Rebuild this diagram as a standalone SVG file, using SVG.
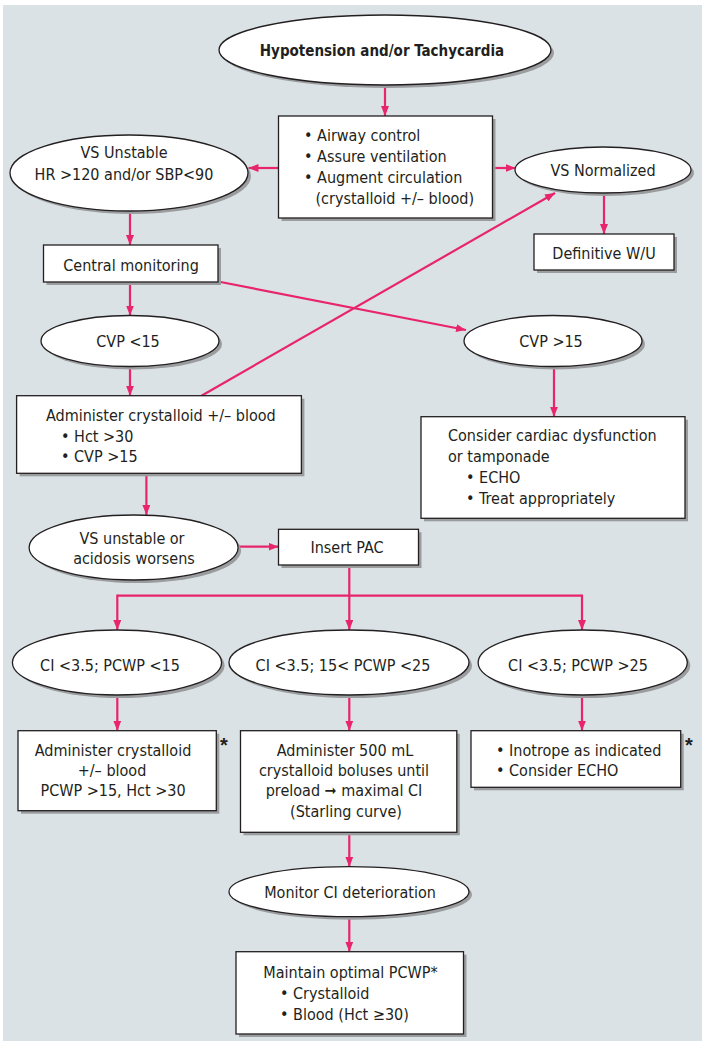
<svg xmlns="http://www.w3.org/2000/svg" width="702" height="1044" viewBox="0 0 702 1044">
<defs>
<marker id="ah" viewBox="0 0 10 8" refX="10" refY="4" markerWidth="10" markerHeight="8" markerUnits="userSpaceOnUse" orient="auto">
<path d="M0,0 L10,4 L0,8 Z" fill="#e8246a"/>
</marker>
<style>
.bg{fill:#dae2e5}
.sh{fill:#9a9c9e}
.nd{fill:#fff;stroke:#231f20;stroke-width:1.3}
.t{font-family:"Liberation Sans Narrow","DejaVu Sans Condensed","Liberation Sans",sans-serif;font-size:16px;fill:#231f20}
.c{text-anchor:middle}
.b{font-weight:bold;font-size:15px}
.ast{font-family:"Liberation Sans","DejaVu Sans",sans-serif;font-size:20px;font-weight:bold;fill:#231f20}
.cn{stroke:#e8246a;stroke-width:2.2;fill:none}
.ar{marker-end:url(#ah)}
</style>
</defs>
<rect class="bg" x="3" y="5" width="699" height="1036"/>

<g id="connectors">
<line class="cn ar" x1="385" y1="85" x2="385" y2="116"/>
<line class="cn ar" x1="278.5" y1="168" x2="248.5" y2="168"/>
<line class="cn ar" x1="492.5" y1="168" x2="515.5" y2="168"/>
<line class="cn ar" x1="604" y1="193" x2="604" y2="234"/>
<line class="cn ar" x1="130" y1="211" x2="130" y2="245"/>
<line class="cn ar" x1="130" y1="282" x2="130" y2="315.5"/>
<line class="cn ar" x1="218" y1="281.5" x2="466" y2="330"/>
<line class="cn ar" x1="130" y1="366.5" x2="130" y2="395.7"/>
<line class="cn ar" x1="201.5" y1="395.7" x2="555" y2="193"/>
<line class="cn ar" x1="554" y1="366.5" x2="554" y2="416.7"/>
<line class="cn ar" x1="146.4" y1="473.3" x2="146.4" y2="515"/>
<line class="cn ar" x1="238" y1="546.7" x2="278.5" y2="546.7"/>
<line class="cn" x1="349.3" y1="565" x2="349.3" y2="595.7"/>
<line class="cn" x1="117.3" y1="595.7" x2="582" y2="595.7"/>
<line class="cn ar" x1="117.3" y1="594.6" x2="117.3" y2="630"/>
<line class="cn ar" x1="349.3" y1="595.7" x2="349.3" y2="630"/>
<line class="cn ar" x1="582" y1="594.6" x2="582" y2="630"/>
<line class="cn ar" x1="117.3" y1="695" x2="117.3" y2="730.7"/>
<line class="cn ar" x1="349.3" y1="695" x2="349.3" y2="730.7"/>
<line class="cn ar" x1="582" y1="695" x2="582" y2="730.7"/>
<line class="cn ar" x1="349.3" y1="832.3" x2="349.3" y2="866.7"/>
<line class="cn ar" x1="349.3" y1="916.7" x2="349.3" y2="951.7"/>
</g>

<g id="n-hypotension">
<ellipse class="sh" cx="388" cy="53" rx="166" ry="35"/>
<ellipse class="nd" cx="385" cy="50" rx="166" ry="35"/>
<text class="t c b" x="382" y="55.5">Hypotension and/or Tachycardia</text>
</g>

<g id="n-airway">
<rect class="sh" x="281.5" y="119" width="214" height="102"/>
<rect class="nd" x="278.5" y="116" width="214" height="102"/>
<text class="t" x="304" y="140.5">• Airway control</text>
<text class="t" x="304" y="161.5">• Assure ventilation</text>
<text class="t" x="304" y="182.5">• Augment circulation</text>
<text class="t" x="315.5" y="203.5">(crystalloid +/– blood)</text>
</g>

<g id="n-vsunstable">
<ellipse class="sh" cx="132" cy="176" rx="119" ry="38"/>
<ellipse class="nd" cx="129" cy="173" rx="119" ry="38"/>
<text class="t c" x="124" y="158">VS Unstable</text>
<text class="t c" x="124" y="179.5">HR &gt;120 and/or SBP&lt;90</text>
</g>

<g id="n-vsnormalized">
<ellipse class="sh" cx="606" cy="173" rx="88" ry="23"/>
<ellipse class="nd" cx="603" cy="170" rx="88" ry="23"/>
<text class="t c" x="603" y="175.5">VS Normalized</text>
</g>

<g id="n-definitive">
<rect class="sh" x="537" y="237" width="140" height="36"/>
<rect class="nd" x="534" y="234" width="140" height="36"/>
<text class="t c" x="604" y="258.5">Definitive W/U</text>
</g>

<g id="n-central">
<rect class="sh" x="46.5" y="248" width="174.5" height="37"/>
<rect class="nd" x="43.5" y="245" width="174.5" height="37"/>
<text class="t c" x="131" y="270.5">Central monitoring</text>
</g>

<g id="n-cvplow">
<ellipse class="sh" cx="133" cy="344" rx="89" ry="25.5"/>
<ellipse class="nd" cx="130" cy="341" rx="89" ry="25.5"/>
<text class="t c" x="128" y="347">CVP &lt;15</text>
</g>

<g id="n-cvphigh">
<ellipse class="sh" cx="556" cy="344" rx="89" ry="25.5"/>
<ellipse class="nd" cx="553" cy="341" rx="89" ry="25.5"/>
<text class="t c" x="551" y="347">CVP &gt;15</text>
</g>

<g id="n-administer1">
<rect class="sh" x="19.6" y="398.7" width="284.8" height="77.6"/>
<rect class="nd" x="16.6" y="395.7" width="284.8" height="77.6"/>
<text class="t" x="46" y="420.5">Administer crystalloid +/– blood</text>
<text class="t" x="61" y="441.5">• Hct  &gt;30</text>
<text class="t" x="61" y="462">• CVP &gt;15</text>
</g>

<g id="n-cardiac">
<rect class="sh" x="424" y="419.7" width="264" height="101.6"/>
<rect class="nd" x="421" y="416.7" width="264" height="101.6"/>
<text class="t" x="448" y="441">Consider cardiac dysfunction</text>
<text class="t" x="448" y="462">or tamponade</text>
<text class="t" x="466" y="483">• ECHO</text>
<text class="t" x="466" y="503.5">• Treat appropriately</text>
</g>

<g id="n-vsunstable2">
<ellipse class="sh" cx="136.6" cy="550.5" rx="104.5" ry="32.5"/>
<ellipse class="nd" cx="133.6" cy="547.5" rx="104.5" ry="32.5"/>
<text class="t c" x="132" y="543.5">VS unstable or</text>
<text class="t c" x="134" y="563.5">acidosis worsens</text>
</g>

<g id="n-pac">
<rect class="sh" x="281.5" y="532.3" width="140" height="35.7"/>
<rect class="nd" x="278.5" y="529.3" width="140" height="35.7"/>
<text class="t c" x="347" y="552.5">Insert PAC</text>
</g>

<g id="n-ci1">
<ellipse class="sh" cx="120" cy="665.5" rx="104.6" ry="32.5"/>
<ellipse class="nd" cx="117" cy="662.5" rx="104.6" ry="32.5"/>
<text class="t c" x="110" y="670.5">CI &lt;3.5; PCWP &lt;15</text>
</g>

<g id="n-ci2">
<ellipse class="sh" cx="352" cy="665.5" rx="120" ry="32.5"/>
<ellipse class="nd" cx="349" cy="662.5" rx="120" ry="32.5"/>
<text class="t c" x="343" y="670.5">CI &lt;3.5; 15&lt; PCWP &lt;25</text>
</g>

<g id="n-ci3">
<ellipse class="sh" cx="585.7" cy="665.5" rx="104.6" ry="32.5"/>
<ellipse class="nd" cx="582.7" cy="662.5" rx="104.6" ry="32.5"/>
<text class="t c" x="578" y="670.5">CI &lt;3.5; PCWP &gt;25</text>
</g>

<g id="n-admin2">
<rect class="sh" x="21" y="733.7" width="198.3" height="80"/>
<rect class="nd" x="18" y="730.7" width="198.3" height="80"/>
<text class="t c" x="113" y="755.5">Administer crystalloid</text>
<text class="t c" x="112" y="775.5">+/– blood</text>
<text class="t c" x="113" y="795.5">PCWP &gt;15, Hct &gt;30</text>
<text class="ast" x="220" y="752">*</text>
</g>

<g id="n-admin500">
<rect class="sh" x="243.5" y="733.7" width="216.3" height="101.6"/>
<rect class="nd" x="240.5" y="730.7" width="216.3" height="101.6"/>
<text class="t c" x="345" y="755.5">Administer 500 mL</text>
<text class="t c" x="344" y="775.5">crystalloid boluses until</text>
<text class="t c" x="344" y="795.5">preload ➞ maximal CI</text>
<text class="t c" x="346" y="817">(Starling curve)</text>
</g>

<g id="n-inotrope">
<rect class="sh" x="474" y="733.7" width="209.7" height="56.6"/>
<rect class="nd" x="471" y="730.7" width="209.7" height="56.6"/>
<text class="t" x="496" y="755.5">• Inotrope as indicated</text>
<text class="t" x="496" y="775.5">• Consider ECHO</text>
<text class="ast" x="685" y="752">*</text>
</g>

<g id="n-monitor">
<ellipse class="sh" cx="352" cy="894.7" rx="120" ry="25"/>
<ellipse class="nd" cx="349" cy="891.7" rx="120" ry="25"/>
<text class="t c" x="350" y="897.5">Monitor CI deterioration</text>
</g>

<g id="n-maintain">
<rect class="sh" x="239" y="954.7" width="227.5" height="82.3"/>
<rect class="nd" x="236" y="951.7" width="227.5" height="82.3"/>
<text class="t" x="263.3" y="978">Maintain optimal PCWP*</text>
<text class="t" x="280" y="998.5">• Crystalloid</text>
<text class="t" x="280" y="1020">• Blood (Hct ≥30)</text>
</g>
</svg>
